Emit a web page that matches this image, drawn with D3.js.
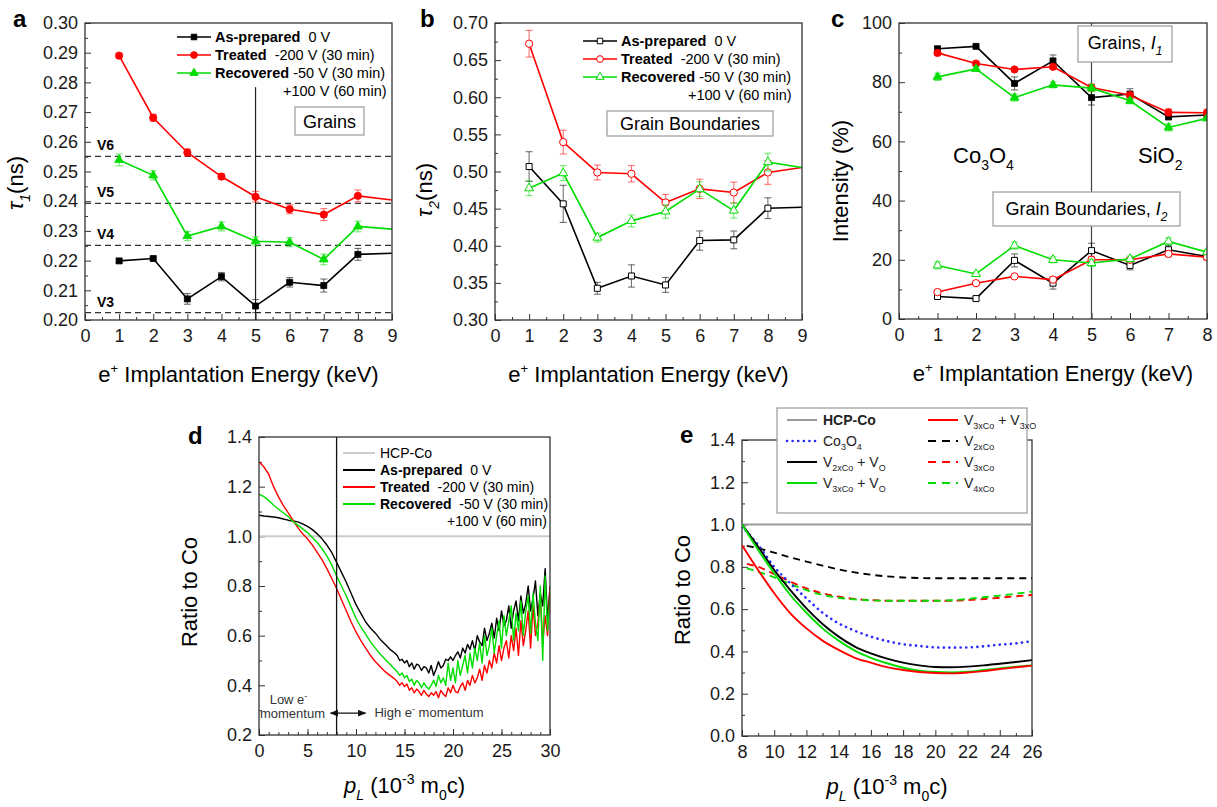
<!DOCTYPE html>
<meta charset="utf-8">
<script src="https://d3js.org/d3.v7.min.js"></script>
<style>
  body { margin: 0; background: #fff; }
  svg text { font-family: "Liberation Sans", Arial, Helvetica, sans-serif; white-space: pre; }
</style>
<div id="viz"></div>
<script>

// ---------- data: panels a-c (positron lifetime / intensity vs energy) ----------
var energy = [1, 2, 3, 4, 5, 6, 7, 8, 9];
var energyC = [1, 2, 3, 4, 5, 6, 7, 8];

var tau1Prepared = [0.2199, 0.2207, 0.2071, 0.2146, 0.2047, 0.2127, 0.2116, 0.2221, 0.2225];
var tau1PreparedErr = [0.0006, 0.0005, 0.0018, 0.0014, 0.0022, 0.0016, 0.0022, 0.0020];
var tau1Treated = [0.2890, 0.2681, 0.2564, 0.2483, 0.2415, 0.2373, 0.2355, 0.2418, 0.2404];
var tau1TreatedErr = [0.0008, 0.0012, 0.0012, 0.0010, 0.0018, 0.0015, 0.0020, 0.0020];
var tau1Recovered = [0.2539, 0.2487, 0.2283, 0.2315, 0.2265, 0.2262, 0.2204, 0.2315, 0.2306];
var tau1RecoveredErr = [0.0020, 0.0015, 0.0015, 0.0015, 0.0015, 0.0015, 0.0018, 0.0018];
var vacancyLevels = [0.2551, 0.2393, 0.2251, 0.2025];
var vacancyNames = ["V6", "V5", "V4", "V3"];

var tau2Prepared = [0.5067, 0.4564, 0.3427, 0.3593, 0.3472, 0.4070, 0.4079, 0.4506, 0.4519];
var tau2PreparedErr = [0.020, 0.025, 0.008, 0.015, 0.010, 0.013, 0.012, 0.014];
var tau2Treated = [0.6721, 0.5396, 0.4987, 0.4969, 0.4582, 0.4766, 0.4717, 0.4987, 0.5054];
var tau2TreatedErr = [0.018, 0.016, 0.010, 0.011, 0.011, 0.013, 0.014, 0.016];
var tau2Recovered = [0.4775, 0.4978, 0.4110, 0.4335, 0.4461, 0.4762, 0.4474, 0.5126, 0.5054];
var tau2RecoveredErr = [0.010, 0.010, 0.006, 0.008, 0.009, 0.010, 0.010, 0.012];

var i1Prepared = [91.3, 92.1, 79.6, 87.2, 74.8, 76.0, 68.3, 68.9];
var i1PreparedErr = [0.8, 0.5, 2.2, 2.0, 2.5, 1.8, 1.0, 1.0];
var i1Treated = [89.9, 86.3, 84.3, 85.2, 78.2, 75.6, 69.8, 69.7];
var i1TreatedErr = [0.8, 0.6, 0.5, 0.8, 1.2, 1.0, 1.2, 1.2];
var i1Recovered = [81.8, 84.5, 74.8, 79.1, 78.0, 73.7, 64.7, 67.8];
var i1RecoveredErr = [1.2, 0.8, 1.2, 1.0, 1.2, 1.0, 1.2, 0.8];
var i2Prepared = [7.6, 6.9, 19.8, 12.1, 23.1, 18.1, 23.4, 21.1];
var i2PreparedErr = [0.8, 0.6, 2.2, 2.0, 2.5, 1.5, 1.5, 1.0];
var i2Treated = [9.1, 12.1, 14.4, 13.3, 20.0, 20.0, 22.0, 20.9];
var i2TreatedErr = [0.8, 0.6, 0.6, 0.8, 1.2, 0.8, 1.0, 1.0];
var i2Recovered = [18.1, 15.2, 24.8, 20.0, 18.9, 20.3, 26.2, 22.6];
var i2RecoveredErr = [1.2, 0.6, 1.2, 1.0, 1.2, 1.0, 1.2, 0.8];

// ---------- data: panel d (measured ratio curves) ----------
var pL = d3.range(0, 14, 0.5).concat(d3.range(14, 30.001, 0.25));
var ratioPrepared = [
  1.085, 1.082, 1.08, 1.078, 1.075, 1.07, 1.065, 1.062, 1.058, 1.05, 1.04, 1.027, 1.01, 0.99,
  0.965, 0.935, 0.895, 0.855, 0.815, 0.77, 0.725, 0.69, 0.655, 0.63, 0.61, 0.585, 0.565, 0.545,
  0.53, 0.52, 0.50, 0.505, 0.49, 0.50, 0.475, 0.49, 0.465, 0.485, 0.48, 0.46,
  0.475, 0.47, 0.45, 0.48, 0.44, 0.465, 0.495, 0.47, 0.48, 0.505, 0.50, 0.515,
  0.50, 0.52, 0.535, 0.51, 0.55, 0.53, 0.565, 0.545, 0.58, 0.54, 0.60, 0.575,
  0.56, 0.63, 0.58, 0.61, 0.65, 0.59, 0.67, 0.62, 0.70, 0.64, 0.66, 0.72,
  0.63, 0.70, 0.74, 0.66, 0.76, 0.69, 0.73, 0.80, 0.70, 0.75, 0.82, 0.68,
  0.77, 0.72, 0.87, 0.66, 0.80];
var ratioTreated = [
  1.30, 1.28, 1.25, 1.20, 1.16, 1.125, 1.095, 1.065, 1.035, 1.01, 0.99, 0.965, 0.935, 0.905,
  0.87, 0.83, 0.79, 0.745, 0.70, 0.655, 0.615, 0.58, 0.55, 0.52, 0.495, 0.475, 0.455, 0.44,
  0.425, 0.415, 0.40, 0.41, 0.395, 0.405, 0.38, 0.39, 0.37, 0.385, 0.375, 0.36,
  0.38, 0.365, 0.355, 0.37, 0.36, 0.375, 0.35, 0.38, 0.365, 0.355, 0.39, 0.37,
  0.40, 0.375, 0.37, 0.395, 0.41, 0.38, 0.42, 0.40, 0.44, 0.41, 0.43, 0.465,
  0.42, 0.48, 0.45, 0.50, 0.47, 0.53, 0.49, 0.56, 0.50, 0.55, 0.58, 0.51,
  0.60, 0.54, 0.63, 0.52, 0.66, 0.56, 0.62, 0.70, 0.55, 0.72, 0.60, 0.65,
  0.76, 0.57, 0.68, 0.60, 0.80];
var ratioRecovered = [
  1.17, 1.16, 1.145, 1.125, 1.11, 1.095, 1.08, 1.06, 1.045, 1.03, 1.015, 0.995, 0.975, 0.95,
  0.92, 0.885, 0.84, 0.80, 0.76, 0.715, 0.67, 0.635, 0.605, 0.575, 0.55, 0.525, 0.505, 0.485,
  0.465, 0.455, 0.44, 0.45, 0.43, 0.44, 0.415, 0.425, 0.40, 0.42, 0.41, 0.39,
  0.41, 0.395, 0.385, 0.40, 0.42, 0.395, 0.44, 0.41, 0.43, 0.40, 0.49, 0.42,
  0.47, 0.41, 0.50, 0.44, 0.48, 0.52, 0.45, 0.53, 0.47, 0.55, 0.50, 0.57,
  0.49, 0.60, 0.52, 0.56, 0.63, 0.53, 0.60, 0.66, 0.55, 0.68, 0.60, 0.66,
  0.72, 0.58, 0.69, 0.62, 0.74, 0.60, 0.70, 0.76, 0.61, 0.77, 0.65, 0.58,
  0.80, 0.50, 0.84, 0.62, 0.75];

// ---------- data: panel e (calculated ratio curves) ----------
var pE = [8, 9, 10, 11, 12, 13, 14, 15, 16, 17, 18, 19, 20, 21, 22, 23, 24, 25, 26];
var pEdash = [8.3, 9, 10, 11, 12, 13, 14, 15, 16, 17, 18, 19, 20, 21, 22, 23, 24, 25, 26];
var calcCo3O4 = [0.99, 0.904, 0.80, 0.722, 0.651, 0.583, 0.533, 0.498, 0.47, 0.449, 0.434, 0.426, 0.419, 0.418, 0.419, 0.424, 0.432, 0.438, 0.449];
var calcV2Vo = [1.0, 0.895, 0.785, 0.69, 0.604, 0.53, 0.47, 0.423, 0.391, 0.366, 0.347, 0.334, 0.326, 0.325, 0.328, 0.334, 0.342, 0.35, 0.359];
var calcV3Vo = [1.0, 0.88, 0.77, 0.667, 0.583, 0.509, 0.451, 0.404, 0.37, 0.344, 0.323, 0.309, 0.303, 0.301, 0.304, 0.312, 0.32, 0.328, 0.334];
var calcV3V3o = [0.902, 0.785, 0.675, 0.58, 0.509, 0.451, 0.407, 0.37, 0.347, 0.326, 0.312, 0.303, 0.298, 0.296, 0.30, 0.307, 0.317, 0.325, 0.333];
var calcV2 = [0.90, 0.888, 0.867, 0.845, 0.825, 0.806, 0.788, 0.774, 0.763, 0.755, 0.75, 0.747, 0.746, 0.746, 0.746, 0.746, 0.746, 0.746, 0.746];
var calcV3 = [0.814, 0.80, 0.766, 0.73, 0.698, 0.675, 0.659, 0.648, 0.643, 0.64, 0.64, 0.64, 0.64, 0.64, 0.643, 0.648, 0.654, 0.661, 0.667];
var calcV4 = [0.793, 0.777, 0.75, 0.719, 0.69, 0.667, 0.654, 0.646, 0.642, 0.64, 0.64, 0.64, 0.64, 0.642, 0.648, 0.656, 0.664, 0.673, 0.683];

// ---------- drawing ----------
var RED = "#ff0000", GREEN = "#00dd00", BLACK = "#000000", BLUE = "#2a2aff";
var svg = d3.select("#viz").append("svg").attr("width", 1217).attr("height", 807);
var clipN = 0;

function rich(text, parts, size) {
  var cur = 0;
  parts.forEach(function (p) {
    var off = p.sub ? size * 0.32 : (p.sup ? -size * 0.42 : 0);
    var ts = text.append("tspan").text(p.t).attr("dy", off - cur);
    cur = off;
    if (p.sub || p.sup) ts.attr("font-size", (p.fs || size * 0.62));
    if (p.b) ts.attr("font-weight", "bold");
    if (p.i) ts.attr("font-style", "italic");
  });
  return text;
}

function panel(x0, x1, y0, y1, xDom, yDom) {
  var p = { w: x1 - x0, h: y1 - y0 };
  p.g = svg.append("g").attr("transform", "translate(" + x0 + "," + y0 + ")");
  p.x = d3.scaleLinear().domain(xDom).range([0, p.w]);
  p.y = d3.scaleLinear().domain(yDom).range([p.h, 0]);
  p.clip = "clip" + (clipN++);
  p.g.append("clipPath").attr("id", p.clip).append("rect").attr("width", p.w).attr("height", p.h);
  return p;
}

function axes(p, xMaj, xMin, yMaj, yMin, yFmt) {
  var ax = p.g.append("g").attr("class", "axes");
  ax.append("g").attr("transform", "translate(0," + p.h + ")")
    .call(d3.axisBottom(p.x).tickValues(xMin).tickSize(-3).tickFormat(""));
  ax.append("g").attr("transform", "translate(0," + p.h + ")")
    .call(d3.axisBottom(p.x).tickValues(xMaj).tickSize(-6).tickPadding(9).tickFormat(d3.format("d")));
  ax.append("g").call(d3.axisLeft(p.y).tickValues(yMin).tickSize(-3).tickFormat(""));
  ax.append("g").call(d3.axisLeft(p.y).tickValues(yMaj).tickSize(-6).tickPadding(7).tickFormat(yFmt));
  ax.selectAll(".domain").remove();
  ax.selectAll("g").attr("font-size", 18).attr("font-family", null);
  ax.selectAll(".tick line").attr("stroke", "#333");
  ax.selectAll(".tick text").attr("fill", "#1a1a1a");
}

function frame(p) {
  p.g.append("rect").attr("width", p.w).attr("height", p.h)
    .attr("fill", "none").attr("stroke", "#333").attr("stroke-width", 1.3);
}

function sym(shape, size) {
  return d3.symbol().type(shape).size(size)();
}
var SHAPES = { square: [d3.symbolSquare, 36], circle: [d3.symbolCircle, 42], triangle: [d3.symbolTriangle, 34] };

function series(p, xs, ys, errs, color, shape, open, markAll) {
  var pts = xs.map(function (v, i) { return [v, ys[i]]; });
  var cg = p.g.append("g").attr("clip-path", "url(#" + p.clip + ")");
  var eb = cg.append("g").attr("stroke", color).attr("stroke-opacity", 0.55).attr("stroke-width", 1.1);
  errs.forEach(function (e, i) {
    var cx = p.x(xs[i]), ya = p.y(ys[i] - e), yb = p.y(ys[i] + e);
    eb.append("line").attr("x1", cx).attr("x2", cx).attr("y1", ya).attr("y2", yb);
    eb.append("line").attr("x1", cx - 3.5).attr("x2", cx + 3.5).attr("y1", ya).attr("y2", ya);
    eb.append("line").attr("x1", cx - 3.5).attr("x2", cx + 3.5).attr("y1", yb).attr("y2", yb);
  });
  cg.append("path").datum(pts)
    .attr("d", d3.line().x(function (d) { return p.x(d[0]); }).y(function (d) { return p.y(d[1]); }))
    .attr("fill", "none").attr("stroke", color).attr("stroke-width", 1.6);
  var xmax = p.x.domain()[1];
  cg.selectAll(null).data(pts.filter(function (d) { return markAll || d[0] < xmax; }))
    .enter().append("path")
    .attr("transform", function (d) { return "translate(" + p.x(d[0]) + "," + p.y(d[1]) + ")"; })
    .attr("d", sym(SHAPES[shape][0], SHAPES[shape][1]))
    .attr("fill", open ? "#fff" : color).attr("stroke", color).attr("stroke-width", open ? 1 : 0.8);
}

function legendRows(p, lx, tx, dy0, step, open, extraX) {
  var items = [
    { b: "As-prepared", r: "  0 V", c: BLACK, s: "square" },
    { b: "Treated", r: "  -200 V (30 min)", c: RED, s: "circle" },
    { b: "Recovered", r: " -50 V (30 min)", c: GREEN, s: "triangle" }
  ];
  items.forEach(function (it, i) {
    var yy = dy0 + i * step;
    p.g.append("line").attr("x1", lx).attr("x2", lx + 34).attr("y1", yy).attr("y2", yy)
      .attr("stroke", it.c).attr("stroke-width", 1.6);
    p.g.append("path").attr("transform", "translate(" + (lx + 17) + "," + yy + ")")
      .attr("d", sym(SHAPES[it.s][0], SHAPES[it.s][1] * 0.85))
      .attr("fill", open ? "#fff" : it.c).attr("stroke", it.c).attr("stroke-width", 1);
    rich(p.g.append("text").attr("x", tx).attr("y", yy + 5).attr("font-size", 14.5),
      [{ t: it.b, b: true }, { t: it.r }], 14.5);
  });
  p.g.append("text").attr("x", extraX).attr("y", dy0 + 3 * step + 5).attr("font-size", 14.5).text("+100 V (60 min)");
}

function boxLabel(p, bx, by, bw, bh, parts, size, ty) {
  p.g.append("rect").attr("x", bx).attr("y", by).attr("width", bw).attr("height", bh)
    .attr("fill", "#fff").attr("stroke", "#9a9a9a").attr("stroke-width", 1.2);
  rich(p.g.append("text").attr("x", bx + bw / 2).attr("y", ty).attr("text-anchor", "middle").attr("font-size", size), parts, size);
}

function energyTitle(p) {
  rich(p.g.append("text").attr("x", p.w / 2).attr("y", p.h + 62).attr("text-anchor", "middle").attr("font-size", 22),
    [{ t: "e" }, { t: "+", sup: true, fs: 13 }, { t: " Implantation Energy (keV)" }], 22);
}

function yTitle(p, dx, cy, parts) {
  rich(p.g.append("text").attr("transform", "translate(" + dx + "," + cy + ") rotate(-90)")
    .attr("text-anchor", "middle").attr("font-size", 22), parts, 22);
}

function tag(x, y, s) {
  svg.append("text").attr("x", x).attr("y", y).attr("font-size", 24).attr("font-weight", "bold").text(s);
}

// ----- panel a -----
var pa = panel(85, 392, 23, 320, [0, 9], [0.20, 0.30]);
axes(pa, d3.range(0, 10, 1), d3.range(0.5, 9, 1), d3.range(0.20, 0.3001, 0.01), d3.range(0.205, 0.30, 0.01), d3.format(".2f"));
vacancyLevels.forEach(function (v, i) {
  pa.g.append("line").attr("x1", 0).attr("x2", pa.w).attr("y1", pa.y(v)).attr("y2", pa.y(v))
    .attr("stroke", "#333").attr("stroke-width", 1.3).attr("stroke-dasharray", "6,4");
  pa.g.append("text").attr("x", 12).attr("y", pa.y(v) - 6).attr("font-size", 14).attr("font-weight", "bold").text(vacancyNames[i]);
});
pa.g.append("line").attr("x1", pa.x(5)).attr("x2", pa.x(5)).attr("y1", pa.y(0.2784)).attr("y2", pa.h)
  .attr("stroke", "#222").attr("stroke-width", 1.2);
series(pa, energy, tau1Prepared, tau1PreparedErr, BLACK, "square", false, false);
series(pa, energy, tau1Treated, tau1TreatedErr, RED, "circle", false, false);
series(pa, energy, tau1Recovered, tau1RecoveredErr, GREEN, "triangle", false, false);
frame(pa);
legendRows(pa, 92, 130, 14, 18, false, 198);
boxLabel(pa, 210, 84, 69, 28, [{ t: "Grains" }], 18, 105);
yTitle(pa, -62, 160, [{ t: "τ", i: true }, { t: "1", sub: true, i: true, fs: 14 }, { t: "(ns)" }]);
energyTitle(pa);
tag(13, 27, "a");

// ----- panel b -----
var pb = panel(495, 802, 23, 320, [0, 9], [0.30, 0.70]);
axes(pb, d3.range(0, 10, 1), d3.range(0.5, 9, 1), d3.range(0.30, 0.7001, 0.05), d3.range(0.325, 0.70, 0.05), d3.format(".2f"));
series(pb, energy, tau2Prepared, tau2PreparedErr, BLACK, "square", true, false);
series(pb, energy, tau2Treated, tau2TreatedErr, RED, "circle", true, false);
series(pb, energy, tau2Recovered, tau2RecoveredErr, GREEN, "triangle", true, false);
frame(pb);
legendRows(pb, 88, 126, 18, 18, true, 193);
boxLabel(pb, 112, 88, 166, 25, [{ t: "Grain Boundaries" }], 18, 107);
yTitle(pb, -63, 167, [{ t: "τ", i: true }, { t: "2", sub: true, i: true, fs: 14 }, { t: "(ns)" }]);
energyTitle(pb);
tag(420, 27, "b");

// ----- panel c -----
var pc = panel(899, 1207, 23, 319, [0, 8], [0, 100]);
axes(pc, d3.range(0, 9, 1), d3.range(0.5, 8, 1), d3.range(0, 101, 20), d3.range(10, 100, 20), d3.format("d"));
pc.g.append("line").attr("x1", pc.x(5)).attr("x2", pc.x(5)).attr("y1", 0).attr("y2", pc.h)
  .attr("stroke", "#444").attr("stroke-width", 1.2);
series(pc, energyC, i1Prepared, i1PreparedErr, BLACK, "square", false, true);
series(pc, energyC, i1Treated, i1TreatedErr, RED, "circle", false, true);
series(pc, energyC, i1Recovered, i1RecoveredErr, GREEN, "triangle", false, true);
series(pc, energyC, i2Prepared, i2PreparedErr, BLACK, "square", true, true);
series(pc, energyC, i2Treated, i2TreatedErr, RED, "circle", true, true);
series(pc, energyC, i2Recovered, i2RecoveredErr, GREEN, "triangle", true, true);
frame(pc);
boxLabel(pc, 179, 3, 94, 36, [{ t: "Grains, " }, { t: "I", i: true }, { t: "1", sub: true, i: true, fs: 12 }], 18, 26);
boxLabel(pc, 94, 169, 187, 34, [{ t: "Grain Boundaries, " }, { t: "I", i: true }, { t: "2", sub: true, i: true, fs: 12 }], 18, 192);
rich(pc.g.append("text").attr("x", 54).attr("y", 140).attr("font-size", 22),
  [{ t: "Co" }, { t: "3", sub: true, fs: 14 }, { t: "O" }, { t: "4", sub: true, fs: 14 }], 22);
rich(pc.g.append("text").attr("x", 239).attr("y", 140).attr("font-size", 22),
  [{ t: "SiO" }, { t: "2", sub: true, fs: 14 }], 22);
yTitle(pc, -51, 158, [{ t: "Intensity (%)" }]);
energyTitle(pc);
tag(831, 27, "c");

// ----- panel d -----
var pd = panel(259, 550, 437, 735, [0, 30], [0.2, 1.4]);
axes(pd, d3.range(0, 31, 5), d3.range(1, 30, 1), d3.range(0.2, 1.401, 0.2), d3.range(0.3, 1.4, 0.2), d3.format(".1f"));
var cd = pd.g.append("g").attr("clip-path", "url(#" + pd.clip + ")");
cd.append("line").attr("x1", 0).attr("x2", pd.w).attr("y1", pd.y(1)).attr("y2", pd.y(1))
  .attr("stroke", "#cccccc").attr("stroke-width", 2);
var lineD = d3.line().x(function (d) { return pd.x(d[0]); }).y(function (d) { return pd.y(d[1]); });
[[ratioPrepared, BLACK], [ratioTreated, RED], [ratioRecovered, GREEN]].forEach(function (s) {
  var n = Math.min(pL.length, s[0].length);
  var pts = d3.range(n).map(function (i) { return [pL[i], s[0][i]]; });
  cd.append("path").datum(pts).attr("d", lineD).attr("fill", "none").attr("stroke", s[1])
    .attr("stroke-width", 1.4).attr("stroke-linejoin", "round");
});
pd.g.append("line").attr("x1", pd.x(8)).attr("x2", pd.x(8)).attr("y1", 0).attr("y2", pd.h)
  .attr("stroke", "#111").attr("stroke-width", 1.3);
frame(pd);
// low/high momentum annotation
var defs = svg.append("defs");
defs.append("marker").attr("id", "ah").attr("viewBox", "0 0 10 10").attr("refX", 9).attr("refY", 5)
  .attr("markerWidth", 7).attr("markerHeight", 7).attr("orient", "auto-start-reverse")
  .append("path").attr("d", "M0,1L10,5L0,9Z").attr("fill", "#111");
var ay = pd.y(0.288);
pd.g.append("line").attr("x1", pd.x(8) - 6).attr("x2", pd.x(8) + 29).attr("y1", ay).attr("y2", ay)
  .attr("stroke", "#111").attr("stroke-width", 1.2)
  .attr("marker-start", "url(#ah)").attr("marker-end", "url(#ah)");
rich(pd.g.append("text").attr("x", pd.x(1.1)).attr("y", ay - 9).attr("font-size", 13).attr("fill", "#333"),
  [{ t: "Low e" }, { t: "-", sup: true, fs: 9 }], 13);
pd.g.append("text").attr("x", pd.x(0.1)).attr("y", ay + 5).attr("font-size", 13).attr("fill", "#333").text("momentum");
rich(pd.g.append("text").attr("x", pd.x(11.9)).attr("y", ay + 4).attr("font-size", 13).attr("fill", "#333"),
  [{ t: "High e" }, { t: "-", sup: true, fs: 9 }, { t: " momentum" }], 13);
// legend d
var legD = [
  { b: "HCP-Co", r: "", c: "#cccccc", bold: false },
  { b: "As-prepared", r: "  0 V", c: BLACK, bold: true },
  { b: "Treated", r: "  -200 V (30 min)", c: RED, bold: true },
  { b: "Recovered", r: "  -50 V (30 min)", c: GREEN, bold: true }
];
legD.forEach(function (it, i) {
  var yy = 16 + i * 17;
  pd.g.append("line").attr("x1", 84).attr("x2", 116).attr("y1", yy).attr("y2", yy).attr("stroke", it.c).attr("stroke-width", 2);
  rich(pd.g.append("text").attr("x", 121).attr("y", yy + 5).attr("font-size", 14),
    [{ t: it.b, b: it.bold }, { t: it.r }], 14);
});
pd.g.append("text").attr("x", 188).attr("y", 16 + 4 * 17 + 5).attr("font-size", 14).text("+100 V (60 min)");
yTitle(pd, -62, 155, [{ t: "Ratio to Co" }]);
function pTitle(p) {
  rich(p.g.append("text").attr("x", p.w / 2).attr("y", p.h + 58).attr("text-anchor", "middle").attr("font-size", 22),
    [{ t: "p", i: true }, { t: "L", sub: true, i: true, fs: 14 }, { t: " (10" }, { t: "-3", sup: true, fs: 14 },
     { t: " m" }, { t: "0", sub: true, fs: 14 }, { t: "c)" }], 22);
}
pTitle(pd);
tag(188, 444, "d");

// ----- panel e -----
var pe = panel(742, 1032, 440, 736, [8, 26], [0, 1.4]);
axes(pe, d3.range(8, 27, 2), d3.range(9, 26, 2), d3.range(0, 1.401, 0.2), d3.range(0.1, 1.4, 0.2), d3.format(".1f"));
frame(pe);
var ce = pe.g.append("g").attr("clip-path", "url(#" + pe.clip + ")");
var lineE = d3.line().curve(d3.curveMonotoneX).x(function (d) { return pe.x(d[0]); }).y(function (d) { return pe.y(d[1]); });
ce.append("line").attr("x1", 0).attr("x2", pe.w).attr("y1", pe.y(1)).attr("y2", pe.y(1))
  .attr("stroke", "#9a9a9a").attr("stroke-width", 2);
var calcSeries = [
  { xs: pEdash, v: calcV2, c: BLACK, dash: "7,5" },
  { xs: pEdash, v: calcV3, c: RED, dash: "7,5" },
  { xs: pEdash, v: calcV4, c: GREEN, dash: "7,5" },
  { xs: pE, v: calcCo3O4, c: BLUE, dash: "0.1,5.5", dot: true },
  { xs: pE, v: calcV2Vo, c: BLACK },
  { xs: pE, v: calcV3Vo, c: GREEN },
  { xs: pE, v: calcV3V3o, c: RED }
];
calcSeries.forEach(function (s) {
  var pts = s.xs.map(function (x, i) { return [x, s.v[i]]; });
  var path = ce.append("path").datum(pts).attr("d", lineE).attr("fill", "none").attr("stroke", s.c)
    .attr("stroke-width", s.dot ? 2.6 : 1.9);
  if (s.dash) path.attr("stroke-dasharray", s.dash);
  if (s.dot) path.attr("stroke-linecap", "round");
});
// legend e
pe.g.append("rect").attr("x", 35).attr("y", -32).attr("width", 250).attr("height", 105)
  .attr("fill", "#fff").attr("stroke", "#9a9a9a").attr("stroke-width", 1.2);
var legE = [
  { col: 0, row: 0, c: "#9a9a9a", parts: [{ t: "HCP-Co", b: true }] },
  { col: 0, row: 1, c: BLUE, dot: true, parts: [{ t: "Co" }, { t: "3", sub: true, fs: 9 }, { t: "O" }, { t: "4", sub: true, fs: 9 }] },
  { col: 0, row: 2, c: BLACK, parts: [{ t: "V" }, { t: "2xCo", sub: true, fs: 9 }, { t: " + V" }, { t: "O", sub: true, fs: 9 }] },
  { col: 0, row: 3, c: GREEN, parts: [{ t: "V" }, { t: "3xCo", sub: true, fs: 9 }, { t: " + V" }, { t: "O", sub: true, fs: 9 }] },
  { col: 1, row: 0, c: RED, parts: [{ t: "V" }, { t: "3xCo", sub: true, fs: 9 }, { t: " + V" }, { t: "3xO", sub: true, fs: 9 }] },
  { col: 1, row: 1, c: BLACK, dash: true, parts: [{ t: "V" }, { t: "2xCo", sub: true, fs: 9 }] },
  { col: 1, row: 2, c: RED, dash: true, parts: [{ t: "V" }, { t: "3xCo", sub: true, fs: 9 }] },
  { col: 1, row: 3, c: GREEN, dash: true, parts: [{ t: "V" }, { t: "4xCo", sub: true, fs: 9 }] }
];
legE.forEach(function (it) {
  var lx = it.col ? 186 : 45, yy = -20 + it.row * 21;
  var ln = pe.g.append("line").attr("x1", lx).attr("x2", lx + 30).attr("y1", yy).attr("y2", yy)
    .attr("stroke", it.c).attr("stroke-width", it.dot ? 2.6 : 2);
  if (it.dash) ln.attr("stroke-dasharray", "8,6");
  if (it.dot) ln.attr("stroke-dasharray", "0.1,5.5").attr("stroke-linecap", "round");
  rich(pe.g.append("text").attr("x", lx + 36).attr("y", yy + 5).attr("font-size", 14).attr("fill", "#222"), it.parts, 14);
});
yTitle(pe, -52, 150, [{ t: "Ratio to Co" }]);
pTitle(pe);
tag(680, 443, "e");

</script>
